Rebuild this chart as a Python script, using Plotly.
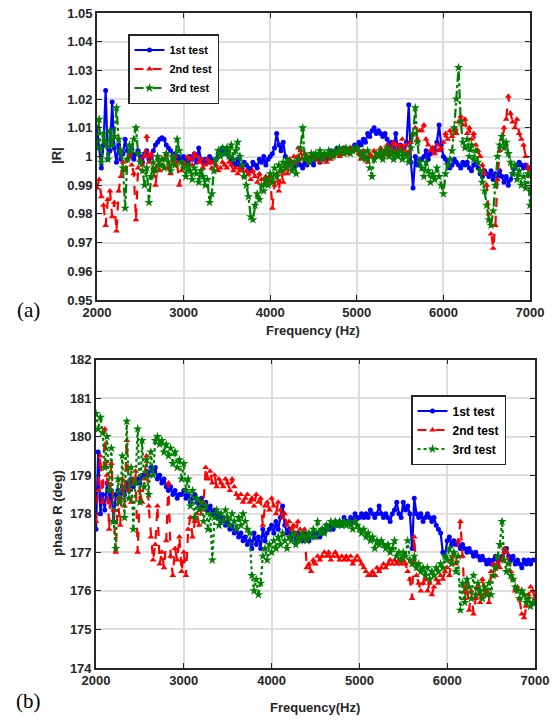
import numpy as np
import plotly.graph_objects as go

# Frequency grid (Hz), 25 Hz spacing
freq = list(range(2000, 7001, 25))

# |R| for the three tests
mag_test1 = [
    1.010, 1.003, 0.996, 1.004, 1.023, 0.999, 1.002, 1.019, 1.003, 0.998,
    1.004, 0.999, 1.001, 1.006, 1.002, 1.000, 1.003, 0.999, 1.001, 1.002,
    1.000, 0.998, 1.001, 1.002, 0.999, 1.000, 1.002, 1.004, 1.005, 1.006,
    1.0065, 1.006, 1.004, 1.003, 1.002, 1.000, 1.001, 0.999, 1.000, 0.999,
    1.000, 0.999, 0.998, 1.000, 0.999, 1.001, 0.998, 1.003, 0.999, 0.998,
    0.999, 0.998, 1.000, 0.999, 0.998, 0.999, 1.001, 1.002, 1.003, 1.001,
    1.003, 1.000, 0.999, 0.998, 0.997, 0.999, 0.997, 0.996, 0.998, 0.997,
    0.996, 0.995, 0.998, 0.997, 0.996, 0.999, 0.998, 1.000, 0.997, 0.999,
    1.000, 1.001, 1.003, 1.008, 1.004, 1.002, 1.005, 1.000, 0.998, 0.997,
    0.998, 0.996, 0.997, 0.999, 0.997, 0.996, 0.998, 0.997, 0.999, 0.998,
    0.997, 0.999, 1.000, 0.998, 1.000, 1.001, 0.999, 1.000, 1.002, 1.001,
    1.002, 1.003, 1.002, 1.001, 1.003, 1.002, 1.002, 1.003, 1.002, 1.004,
    1.003, 1.005, 1.004, 1.006, 1.005, 1.008, 1.007, 1.009, 1.010, 1.008,
    1.009, 1.008, 1.007, 1.008, 1.006, 1.004, 1.005, 1.003, 1.008, 1.002,
    1.004, 1.003, 1.001, 1.005, 1.018, 0.998, 0.989, 1.000, 0.997, 0.999,
    0.999, 1.000, 1.002, 0.999, 1.001, 1.003, 1.002, 1.005, 1.011, 1.004,
    1.000, 0.999, 0.998, 0.996, 0.997, 0.999, 0.998, 0.997, 0.996, 0.998,
    0.997, 0.998, 0.996, 0.995, 0.997, 0.998, 0.996, 0.994, 0.993, 0.995,
    0.994, 0.993, 0.995, 0.992, 0.994, 0.993, 0.995, 0.993, 0.991, 0.993,
    0.990, 0.992, 0.994, 0.996, 0.997, 0.998, 0.997, 0.996, 0.997, 0.996,
    0.996,
]
mag_test2 = [
    0.989, 0.992, 0.986, 0.983, 0.976, 0.985, 0.988, 0.979, 0.984, 0.974,
    0.988, 0.993, 0.998, 0.995, 0.999, 1.001, 0.997, 0.994, 0.978, 0.996,
    0.999, 0.997, 1.000, 1.007, 0.998, 1.001, 0.996, 0.990, 0.997, 0.995,
    0.997, 0.999, 1.001, 0.996, 0.994, 0.999, 1.000, 0.998, 0.990, 0.995,
    0.998, 0.997, 1.000, 0.999, 0.997, 1.001, 1.000, 0.998, 0.999, 0.996,
    0.997, 0.999, 0.998, 0.996, 0.998, 0.997, 0.995, 0.996, 0.998, 0.997,
    0.996, 0.998, 0.997, 0.995, 0.996, 0.994, 0.996, 0.995, 0.993, 0.995,
    0.994, 0.992, 0.995, 0.993, 0.991, 0.994, 0.992, 0.990, 0.993, 0.991,
    0.993, 0.982, 0.990, 0.994, 0.988, 0.995, 0.991, 0.997, 0.994, 0.999,
    0.997, 1.000, 0.998, 1.003, 1.002, 0.999, 1.001, 1.000, 0.998, 1.000,
    1.001, 0.999, 1.000, 0.998, 0.999, 1.000, 0.998, 1.001, 0.999, 1.000,
    1.001, 1.002, 1.000, 1.001, 1.003, 1.002, 1.001, 1.003, 1.002, 1.003,
    1.002, 1.001, 0.999, 1.002, 1.000, 0.998, 1.001, 1.000, 1.002, 1.000,
    1.001, 1.003, 1.000, 1.002, 1.004, 1.001, 1.003, 1.005, 1.002, 1.004,
    1.003, 1.006, 1.002, 1.004, 1.001, 1.005, 1.008, 1.010, 1.006, 1.009,
    1.009, 1.011, 1.006, 1.004, 1.002, 1.003, 1.001, 1.004, 1.002, 1.003,
    1.005, 1.008, 1.006, 1.009, 1.007, 1.010, 1.008, 1.012, 1.014, 1.011,
    1.013, 1.008, 1.010, 1.006, 1.008, 1.004, 1.002, 1.000, 0.997, 0.994,
    0.990, 0.980, 0.973, 0.968, 0.976, 0.992, 1.002, 1.006, 1.010, 1.013,
    1.021, 1.015, 1.012, 1.010, 1.013, 1.008, 1.006, 1.004, 1.000, 0.996,
    0.993,
]
mag_test3 = [
    1.003, 1.013, 0.998, 1.008, 1.005, 0.999, 1.009, 1.004, 1.007, 1.017,
    1.006, 1.002, 0.996, 0.982, 0.999, 1.004, 1.002, 1.006, 1.010, 1.001,
    0.998, 0.995, 0.990, 0.996, 0.984, 0.993, 0.998, 0.995, 1.000, 0.997,
    0.999, 0.996, 1.001, 0.998, 0.995, 1.000, 0.997, 1.006, 1.002, 0.998,
    0.996, 0.993, 0.997, 0.995, 0.992, 0.996, 0.994, 0.991, 0.995, 0.993,
    0.990, 0.992, 0.984, 0.987, 0.995, 0.999, 1.002, 1.000, 1.003, 1.001,
    1.003, 1.000, 1.004, 0.999, 1.002, 1.005, 1.000, 0.997, 0.993, 0.990,
    0.986, 0.979, 0.978, 0.983, 0.987, 0.985, 0.990, 0.988, 0.992, 0.990,
    0.994, 0.991, 0.996, 0.993, 0.997, 0.995, 0.998, 0.996, 0.999, 0.997,
    0.995, 0.998, 0.994, 0.999, 1.003, 1.010, 0.999, 1.000, 0.998, 1.001,
    0.999, 1.001, 1.000, 1.002, 0.999, 1.001, 1.000, 1.002, 1.001, 1.000,
    1.002, 1.001, 1.003, 1.002, 1.001, 1.003, 1.002, 1.001, 1.002, 1.003,
    1.003, 1.002, 1.000, 1.001, 0.999, 1.002, 0.996, 0.993, 0.999, 1.001,
    1.000, 1.002, 0.999, 1.001, 1.003, 1.000, 1.002, 0.999, 1.001, 1.000,
    1.002, 0.999, 1.001, 1.000, 0.998, 1.003, 1.008, 1.017, 1.005, 0.998,
    0.996, 0.993, 0.998, 0.995, 0.991, 0.994, 0.992, 0.996, 0.993, 0.990,
    0.987, 0.994, 0.997, 0.999, 1.002, 1.010, 1.020, 1.031, 1.012, 1.005,
    1.003, 1.006, 1.000, 1.004, 0.999, 1.002, 0.998, 0.995, 0.991, 0.988,
    0.983, 0.978, 0.976, 0.981, 0.990, 1.000, 1.004, 1.007, 1.003, 1.005,
    1.001, 0.998, 0.994, 0.997, 0.992, 0.995, 0.990, 0.993, 0.989, 0.994,
    0.983,
]

# phase of R (deg) for the three tests
phase_test1 = [
    177.6, 179.6, 178.0, 178.5, 178.1, 178.8, 178.4, 178.6, 177.8, 178.5,
    178.6, 178.4, 178.7, 178.5, 178.8, 178.6, 178.9, 178.7, 178.8, 178.9,
    178.8, 179.0, 179.0, 179.1, 179.0, 179.2, 179.1, 179.2, 178.9, 179.0,
    178.8, 178.9, 178.7, 178.6, 178.7, 178.5, 178.6, 178.4, 178.5, 178.5,
    178.6, 178.4, 178.5, 178.3, 178.4, 178.5, 178.3, 178.2, 178.4, 178.2,
    178.3, 178.1, 178.2, 178.0, 178.1, 177.9, 178.0, 177.8, 177.9, 177.7,
    177.8, 177.6, 177.7, 177.5, 177.6, 177.4, 177.5, 177.3, 177.4, 177.2,
    177.3, 177.1, 177.5, 177.2, 177.4, 177.1, 177.6, 177.3, 177.5, 177.6,
    177.7, 177.5, 177.8, 177.6, 177.9, 178.2, 177.7, 177.5, 177.6, 177.4,
    177.5, 177.3, 177.5, 177.4, 177.3, 177.5, 177.4, 177.3, 177.4, 177.5,
    177.4, 177.5, 177.4, 177.6, 177.5, 177.7, 177.6, 177.7, 177.6, 177.8,
    177.7, 177.8, 177.7, 177.9, 177.8, 177.8, 177.9, 177.8, 178.0, 177.9,
    177.9, 178.0, 177.9, 178.0, 177.9, 178.1, 178.0, 177.9, 178.0, 178.2,
    178.0, 177.9, 178.0, 177.9, 177.8, 178.0, 178.1, 178.3, 178.0, 177.9,
    178.3, 178.1, 178.2, 178.0, 177.1, 178.4, 178.0, 177.9, 178.0, 177.8,
    177.9, 178.0, 177.9, 177.8, 177.9, 177.7, 177.6, 177.5, 177.0, 176.9,
    177.3, 177.4, 177.2, 177.3, 177.2, 177.2, 177.1, 177.2, 177.1, 177.0,
    177.1, 177.0, 176.9, 177.0, 176.9, 176.8, 176.9, 176.8, 176.7, 176.8,
    176.7, 176.8, 176.9, 176.7, 176.8, 176.9, 177.0, 177.1, 176.9, 176.8,
    176.9, 176.7, 176.8, 176.7, 176.6, 176.8, 176.7, 176.8, 176.7, 176.8,
    176.8,
]
phase_test2 = [
    177.8, 178.6, 179.5, 178.3, 180.2, 179.0, 177.6, 179.3, 178.1, 177.0,
    178.4, 177.7, 178.9, 178.2, 179.9, 178.6, 178.3, 178.9, 179.1, 177.0,
    178.6, 178.3, 178.9, 179.5, 178.2, 177.4, 176.8, 177.2, 178.2, 176.7,
    177.0, 176.6, 177.3, 178.8, 176.9, 176.4, 177.1, 176.8, 177.4, 176.5,
    177.0, 176.4, 177.6, 177.9, 177.4, 177.8, 178.0, 177.7, 178.1, 178.3,
    179.2, 178.9, 179.1, 178.8, 179.0, 178.7, 178.9, 178.8, 178.7, 178.9,
    178.8, 178.6, 178.9, 178.7, 178.5, 178.4, 178.5, 178.3, 178.4, 178.5,
    178.3, 178.4, 178.2, 178.5, 178.3, 178.4, 177.7, 178.2, 178.3, 178.1,
    178.4, 178.2, 178.0, 178.3, 178.1, 177.9, 178.0, 177.7, 177.8, 177.6,
    177.7, 177.5, 177.8, 177.6, 177.4, 177.6, 176.6, 176.7, 176.5, 176.8,
    176.7, 176.9, 176.8, 176.9, 177.0, 176.9, 177.0, 176.8, 176.9, 177.0,
    176.9, 176.8, 176.9, 176.8, 176.9, 176.8, 176.9, 176.7, 176.8, 176.9,
    176.8, 176.7, 176.6, 176.5, 176.4, 176.4, 176.5, 176.4, 176.6, 176.5,
    176.6, 176.7, 176.6, 176.7, 176.8, 176.7, 176.8, 176.7, 176.8, 176.7,
    176.8, 176.7, 176.5, 176.3, 175.8, 177.4, 176.4, 176.2, 176.0, 176.2,
    176.3, 176.0, 176.2, 175.9, 176.1, 176.3, 176.2, 176.4, 176.3, 176.5,
    176.6, 176.4, 176.8, 177.0, 176.7, 177.3, 177.8, 176.9, 175.8, 176.2,
    175.5, 176.0, 175.4, 175.8, 176.1, 175.7, 176.3, 175.9, 176.0, 175.7,
    176.5, 176.7, 176.4, 176.9, 176.6, 176.8, 177.1, 177.0, 176.7, 176.5,
    176.3, 176.0, 176.1, 175.8, 175.4, 175.3, 175.6, 175.9, 176.1, 176.0,
    175.8,
]
phase_test3 = [
    180.6, 180.2, 180.5, 180.1, 179.2, 180.0, 178.6, 179.7, 177.8, 177.1,
    178.9, 178.3, 179.5, 177.9, 180.4, 178.4, 179.2, 177.6, 178.8, 180.2,
    178.3, 179.9, 178.7, 179.4, 178.5, 179.6, 179.0, 179.9, 180.0, 179.8,
    179.9, 179.6, 179.8, 179.5, 179.7, 179.3, 179.6, 179.2, 179.4, 178.9,
    179.3, 178.6, 178.9, 178.2, 178.6, 177.9, 178.4, 178.1, 178.3, 177.8,
    178.2, 177.6, 178.0, 176.8, 177.9, 178.1, 177.7, 178.0, 177.8, 178.1,
    177.9, 177.7, 178.0, 177.8, 177.6, 177.9, 177.7, 178.0, 177.8, 177.6,
    177.5, 176.4, 176.0, 176.3, 175.9, 176.2, 176.9, 177.1, 176.8, 177.2,
    177.0, 177.3, 177.1, 177.4, 177.2, 177.5, 177.3, 177.1, 177.4, 177.3,
    177.5, 177.2, 177.4, 177.3, 177.5, 177.4, 177.3, 177.5, 177.4, 177.6,
    177.4, 177.8, 177.5, 177.6, 177.5, 177.7, 177.6, 177.8, 177.7, 177.8,
    177.7, 177.8, 177.7, 177.8, 177.7, 177.8, 177.7, 177.6, 177.8, 177.7,
    177.6, 177.5, 177.6, 177.4, 177.5, 177.3, 177.4, 177.1, 177.3, 177.2,
    177.3, 177.2, 177.1, 177.2, 177.0, 177.1, 177.3, 176.9, 177.0, 176.8,
    177.0, 176.9, 177.3, 176.8, 176.7, 176.9, 176.6, 176.7, 176.5, 176.6,
    176.4, 176.6, 176.3, 176.5, 176.4, 176.6, 176.5, 176.7, 176.6, 176.9,
    176.8, 177.1, 176.7, 177.0, 176.5, 176.9, 175.5, 176.2, 175.7, 176.3,
    176.1, 175.8, 176.4, 175.9, 176.2, 176.0, 175.8, 176.1, 175.9, 176.2,
    175.9, 176.4, 176.6, 176.9, 177.2, 177.8, 176.8, 176.5, 176.7, 176.4,
    176.3, 176.1, 176.0, 175.8, 176.0, 175.9, 175.7, 175.8, 175.6, 175.7,
    175.7,
]

series_names = ["1st test", "2nd test", "3rd test"]
freq_ticks = [2000, 3000, 4000, 5000, 6000, 7000]
mag_ticks = [0.95, 0.96, 0.97, 0.98, 0.99, 1.00, 1.01, 1.02, 1.03, 1.04, 1.05]
mag_tick_text = ["0.95", "0.96", "0.97", "0.98", "0.99", "1",
                 "1.01", "1.02", "1.03", "1.04", "1.05"]
phase_ticks = [174, 175, 176, 177, 178, 179, 180, 181, 182]

BLUE, RED, GREEN = "#0000ff", "#ff0000", "#008000"
AXC = "#262626"
GRID = "#dedede"
FONT = "Liberation Sans"

fig = go.Figure()

top_styles = [
    dict(color=BLUE, dash="solid", symbol="circle", msize=5),
    dict(color=RED, dash="dash", symbol="triangle-up", msize=6),
    dict(color=GREEN, dash="dashdot", symbol="star", msize=7),
]
bot_styles = [
    dict(color=BLUE, dash="solid", symbol="circle", msize=5),
    dict(color=RED, dash="dash", symbol="triangle-up", msize=6),
    dict(color=GREEN, dash="dot", symbol="star", msize=7),
]

for name, ys, st in zip(series_names, [mag_test1, mag_test2, mag_test3], top_styles):
    fig.add_trace(go.Scatter(
        x=freq, y=ys, name=name, mode="lines+markers",
        line=dict(color=st["color"], dash=st["dash"], width=2.2),
        marker=dict(color=st["color"], symbol=st["symbol"], size=st["msize"]),
        xaxis="x", yaxis="y", legend="legend",
    ))

for name, ys, st in zip(series_names, [phase_test1, phase_test2, phase_test3], bot_styles):
    fig.add_trace(go.Scatter(
        x=freq, y=ys, name=name, mode="lines+markers",
        line=dict(color=st["color"], dash=st["dash"], width=2.2),
        marker=dict(color=st["color"], symbol=st["symbol"], size=st["msize"]),
        xaxis="x2", yaxis="y2", legend="legend2",
    ))

W, H = 555, 722
tickfont = dict(family=FONT, size=13, color=AXC, weight="bold")

axis_common = dict(
    showline=True, linecolor=AXC, linewidth=1.6, mirror="ticks",
    ticks="inside", ticklen=5, tickwidth=1.2, tickcolor=AXC,
    showgrid=True, gridcolor=GRID, gridwidth=1.5,
    zeroline=False, tickfont=tickfont, automargin=False,
)

legend_common = dict(
    bgcolor="white", bordercolor=AXC, borderwidth=1.5,
    xanchor="left", yanchor="top", tracegroupgap=0, itemwidth=30,
)

fig.update_layout(
    width=W, height=H,
    margin=dict(l=0, r=0, t=0, b=0, autoexpand=False),
    paper_bgcolor="white", plot_bgcolor="white",
    showlegend=True,
    xaxis=dict(domain=[97 / W, 530 / W], range=[2000, 7000], tickvals=freq_ticks,
               anchor="y", **axis_common),
    yaxis=dict(domain=[1 - 300 / H, 1 - 13 / H], range=[0.95, 1.05],
               tickvals=mag_ticks, ticktext=mag_tick_text, anchor="x", **axis_common),
    xaxis2=dict(domain=[96 / W, 535 / W], range=[2000, 7000], tickvals=freq_ticks,
                anchor="y2", **axis_common),
    yaxis2=dict(domain=[1 - 668 / H, 1 - 359.5 / H], range=[174, 182],
                tickvals=phase_ticks, anchor="x2", **axis_common),
    legend=dict(x=128 / W, y=1 - 34 / H,
                font=dict(family=FONT, size=11, color="black", weight="bold"),
                **legend_common),
    legend2=dict(x=411 / W, y=1 - 395 / H,
                 font=dict(family=FONT, size=12, color="black", weight="bold"),
                 **legend_common),
)

title_font = dict(family=FONT, size=13, color=AXC, weight="bold")
annotations = [
    dict(text="|R|", x=57 / W, y=1 - 156 / H, textangle=-90, font=title_font),
    dict(text="Frequency (Hz)", x=313 / W, y=1 - 330 / H, font=title_font),
    dict(text="phase R (deg)", x=57 / W, y=1 - 513 / H, textangle=-90, font=title_font),
    dict(text="Frequency(Hz)", x=315 / W, y=1 - 707 / H, font=title_font),
    dict(text="(a)", x=28 / W, y=1 - 310 / H,
         font=dict(family="Liberation Serif", size=21, color="black")),
    dict(text="(b)", x=28 / W, y=1 - 701 / H,
         font=dict(family="Liberation Serif", size=21, color="black")),
]
for a in annotations:
    fig.add_annotation(xref="paper", yref="paper", showarrow=False,
                       xanchor="center", yanchor="middle", **a)

fig.write_html("out.html")
